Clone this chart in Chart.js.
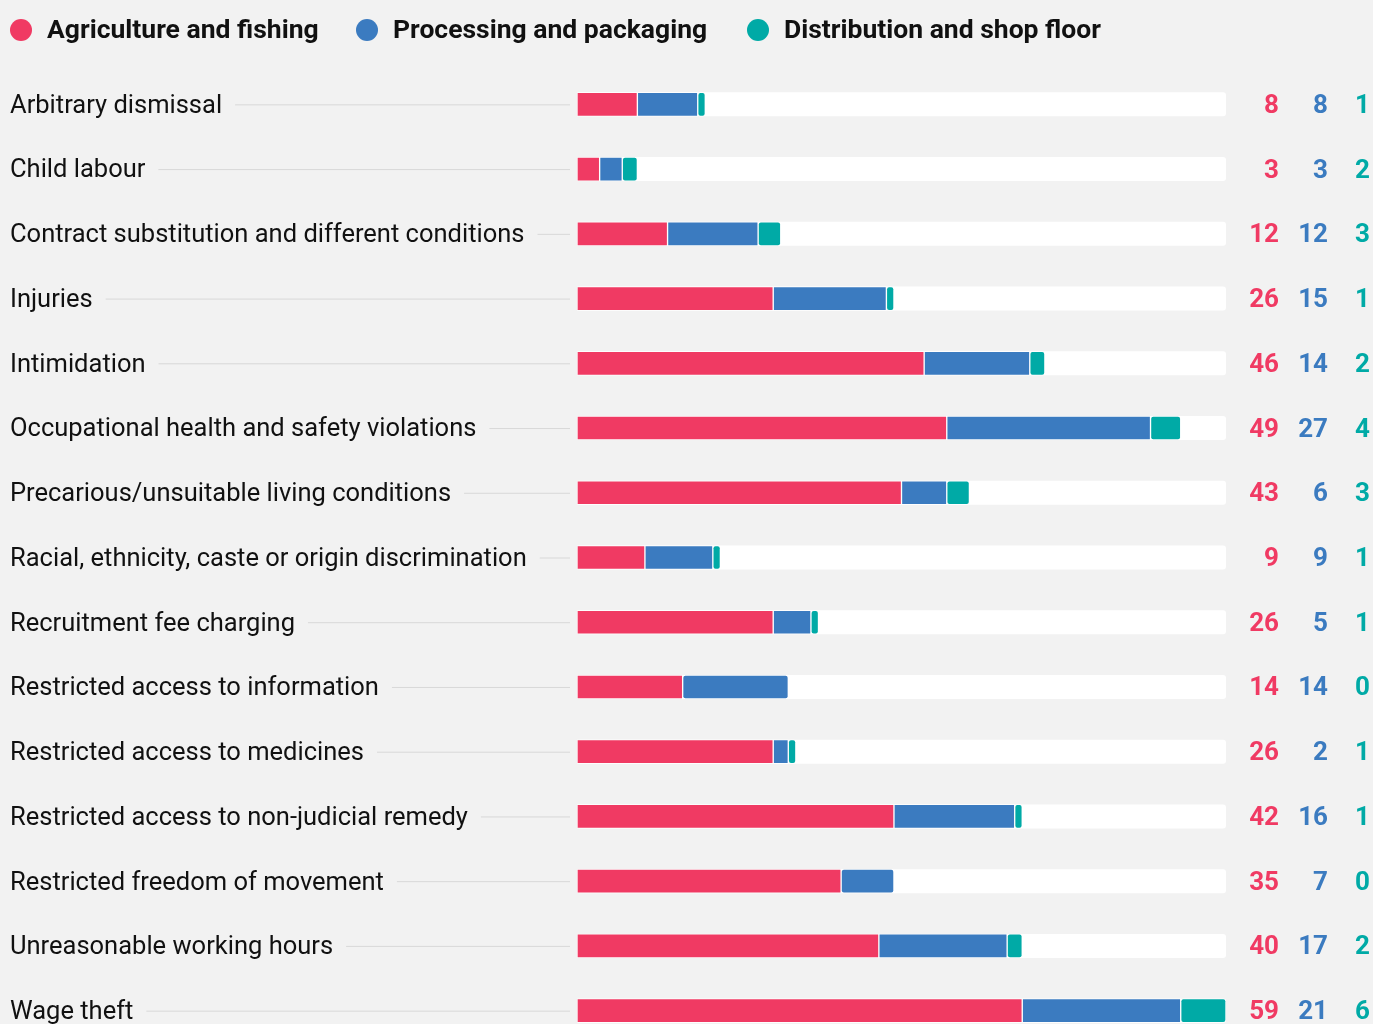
<!DOCTYPE html>
<html>
<head>
<meta charset="utf-8">
<script src="https://cdn.jsdelivr.net/npm/chart.js@4/dist/chart.umd.min.js"></script>
<style>
  html, body { margin: 0; padding: 0; background: #f2f2f2; overflow: hidden; }
  #wrap { position: relative; width: 1373px; height: 1050px; }
</style>
</head>
<body>
<div id="wrap"><canvas id="chart"></canvas></div>
<script>
// --- Data ---
const categories = [
  'Arbitrary dismissal',
  'Child labour',
  'Contract substitution and different conditions',
  'Injuries',
  'Intimidation',
  'Occupational health and safety violations',
  'Precarious/unsuitable living conditions',
  'Racial, ethnicity, caste or origin discrimination',
  'Recruitment fee charging',
  'Restricted access to information',
  'Restricted access to medicines',
  'Restricted access to non-judicial remedy',
  'Restricted freedom of movement',
  'Unreasonable working hours',
  'Wage theft'
];
const agriculture = [8, 3, 12, 26, 46, 49, 43, 9, 26, 14, 26, 42, 35, 40, 59];
const processing = [8, 3, 12, 15, 14, 27, 6, 9, 5, 14, 2, 16, 7, 17, 21];
const distribution = [1, 2, 3, 1, 2, 4, 3, 1, 1, 0, 1, 1, 0, 2, 6];
const seriesNames = ['Agriculture and fishing', 'Processing and packaging', 'Distribution and shop floor'];
const seriesColors = ['#f03a63', '#3b7bc0', '#00aaa6'];

const totals = categories.map((_, i) => agriculture[i] + processing[i] + distribution[i]);
const maxTotal = Math.max(...totals);

const FONT = 'Roboto, "Noto Sans", sans-serif';

function roundRect(ctx, x, y, w, h, r) {
  ctx.beginPath();
  ctx.moveTo(x + r, y);
  ctx.lineTo(x + w - r, y);
  ctx.arcTo(x + w, y, x + w, y + r, r);
  ctx.lineTo(x + w, y + h - r);
  ctx.arcTo(x + w, y + h, x + w - r, y + h, r);
  ctx.lineTo(x + r, y + h);
  ctx.arcTo(x, y + h, x, y + h - r, r);
  ctx.lineTo(x, y + r);
  ctx.arcTo(x, y, x + r, y, r);
  ctx.closePath();
}

// white track behind each bar, label + leader line on the left
const trackPlugin = {
  id: 'track',
  beforeDatasetsDraw(chart) {
    const { ctx, scales: { x, y } } = chart;
    const x0 = x.getPixelForValue(0);
    const x1 = x.getPixelForValue(maxTotal);
    ctx.save();
    categories.forEach((cat, i) => {
      const cy = y.getPixelForValue(i);
      ctx.fillStyle = '#ffffff';
      roundRect(ctx, x0, cy - 12, x1 - x0, 24, 3);
      ctx.fill();

      ctx.font = '400 25.5px ' + FONT;
      ctx.fillStyle = '#111111';
      ctx.textBaseline = 'middle';
      ctx.textAlign = 'left';
      ctx.fillText(cat, 10, cy + 2);
      const w = ctx.measureText(cat).width;
      ctx.strokeStyle = '#d8d8d8';
      ctx.lineWidth = 1;
      ctx.beginPath();
      ctx.moveTo(10 + w + 13, cy + 0.5);
      ctx.lineTo(x0 - 7, cy + 0.5);
      ctx.stroke();
    });
    ctx.restore();
  },
  afterDraw(chart) {
    const { ctx, scales: { y } } = chart;
    const cols = [1279, 1328, 1370];
    const series = [agriculture, processing, distribution];
    ctx.save();
    ctx.font = '700 26px ' + FONT;
    ctx.textBaseline = 'middle';
    ctx.textAlign = 'right';
    categories.forEach((_, i) => {
      const cy = y.getPixelForValue(i);
      series.forEach((s, k) => {
        ctx.fillStyle = seriesColors[k];
        ctx.fillText(String(s[i]), cols[k], cy + 2);
      });
    });

    // legend
    const legendX = [21, 367, 758];
    ctx.font = '700 26.5px ' + FONT;
    ctx.textAlign = 'left';
    seriesNames.forEach((name, k) => {
      ctx.fillStyle = seriesColors[k];
      ctx.beginPath();
      ctx.arc(legendX[k], 30, 11, 0, Math.PI * 2);
      ctx.fill();
      ctx.fillStyle = '#111111';
      ctx.fillText(name, legendX[k] + 26, 31);
    });
    ctx.restore();
  }
};

const datasets = [agriculture, processing, distribution].map((data, k) => ({
  label: seriesNames[k],
  data: data,
  backgroundColor: seriesColors[k],
  borderColor: 'rgba(255,255,255,0.55)',
  borderWidth: 1,
  borderRadius: 3,
  borderSkipped: false,
  barThickness: 24
}));

new Chart(document.getElementById('chart'), {
  type: 'bar',
  data: { labels: categories, datasets: datasets },
  options: {
    indexAxis: 'y',
    responsive: true,
    maintainAspectRatio: false,
    animation: false,
    layout: { padding: { left: 577, right: 147, top: 72, bottom: 7 } },
    scales: {
      x: { stacked: true, min: 0, max: maxTotal, display: false },
      y: { stacked: true, display: false }
    },
    plugins: {
      legend: { display: false },
      tooltip: { enabled: false }
    }
  },
  plugins: [trackPlugin]
});
</script>
</body>
</html>
